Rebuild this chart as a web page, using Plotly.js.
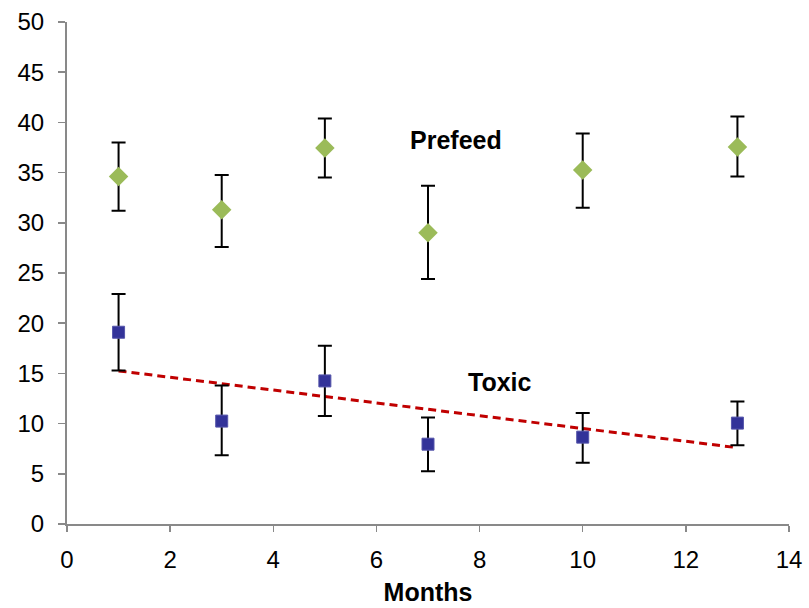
<!DOCTYPE html>
<html>
<head>
<meta charset="utf-8">
<script src="https://cdn.plot.ly/plotly-3.0.1.min.js"></script>
<style>html,body{margin:0;padding:0;background:#fff;}#chart{width:809px;height:608px;}</style>
</head>
<body>
<div id="chart"></div>
<script>
const months = [1, 3, 5, 7, 10, 13];
const prefeed = [34.6, 31.3, 37.45, 29.0, 35.25, 37.55];
const prefeedErrPlus = [3.4, 3.45, 2.95, 4.7, 3.65, 3.05];
const prefeedErrMinus = [3.4, 3.7, 2.95, 4.6, 3.75, 2.95];
const toxic = [19.1, 10.25, 14.25, 7.95, 8.65, 10.05];
const toxicErrPlus = [3.8, 3.55, 3.5, 2.65, 2.4, 2.15];
const toxicErrMinus = [3.8, 3.4, 3.5, 2.7, 2.55, 2.2];
const trendX = [1, 13];
const trendY = [15.25, 7.6];
const xTicks = [0, 2, 4, 6, 8, 10, 12, 14];
const yTicks = [0, 5, 10, 15, 20, 25, 30, 35, 40, 45, 50];

const traces = [
  {
    x: trendX, y: trendY, type: 'scatter', mode: 'lines',
    line: {color: '#C00000', width: 3, dash: '8px,5px'},
    hoverinfo: 'skip'
  },
  {
    x: months, y: prefeed, type: 'scatter', mode: 'markers', name: 'Prefeed',
    marker: {symbol: 'diamond', size: 15, color: '#9BBB59'},
    error_y: {type: 'data', symmetric: false, array: prefeedErrPlus, arrayminus: prefeedErrMinus,
      color: '#000000', thickness: 2, width: 7}
  },
  {
    x: months, y: toxic, type: 'scatter', mode: 'markers', name: 'Toxic',
    marker: {symbol: 'square', size: 12, color: '#333399', line: {color: '#5555aa', width: 1}},
    error_y: {type: 'data', symmetric: false, array: toxicErrPlus, arrayminus: toxicErrMinus,
      color: '#000000', thickness: 2, width: 7}
  }
];

const layout = {
  width: 809, height: 608,
  margin: {l: 67, r: 20, t: 22, b: 84},
  paper_bgcolor: '#ffffff', plot_bgcolor: '#ffffff',
  showlegend: false,
  font: {family: 'Liberation Sans, Arial, sans-serif', size: 24, color: '#000'},
  xaxis: {
    range: [0, 14], tickvals: xTicks, ticktext: xTicks.map(String),
    showgrid: false, zeroline: false, showline: true, linecolor: '#898989', linewidth: 2,
    ticks: 'outside', ticklen: 6, tickwidth: 1.5, tickcolor: '#898989',
    ticklabelstandoff: 7,
    tickfont: {size: 24, color: '#000'},
    title: {text: '<b>Months</b>', font: {size: 25, color: '#000'}, standoff: 12}
  },
  yaxis: {
    range: [0, 50], tickvals: yTicks, ticktext: yTicks.map(String),
    showgrid: false, zeroline: false, showline: true, linecolor: '#898989', linewidth: 2,
    ticks: 'outside', ticklen: 7, tickwidth: 1.5, tickcolor: '#898989',
    ticklabelstandoff: 9,
    tickfont: {size: 24, color: '#000'}
  },
  annotations: [
    {x: 7.54, y: 38.2, xref: 'x', yref: 'y', text: '<b>Prefeed</b>', showarrow: false,
      font: {size: 25, color: '#000'}},
    {x: 8.4, y: 14.1, xref: 'x', yref: 'y', text: '<b>Toxic</b>', showarrow: false,
      font: {size: 25, color: '#000'}}
  ]
};

Plotly.newPlot('chart', traces, layout, {displayModeBar: false, staticPlot: true});
</script>
</body>
</html>
